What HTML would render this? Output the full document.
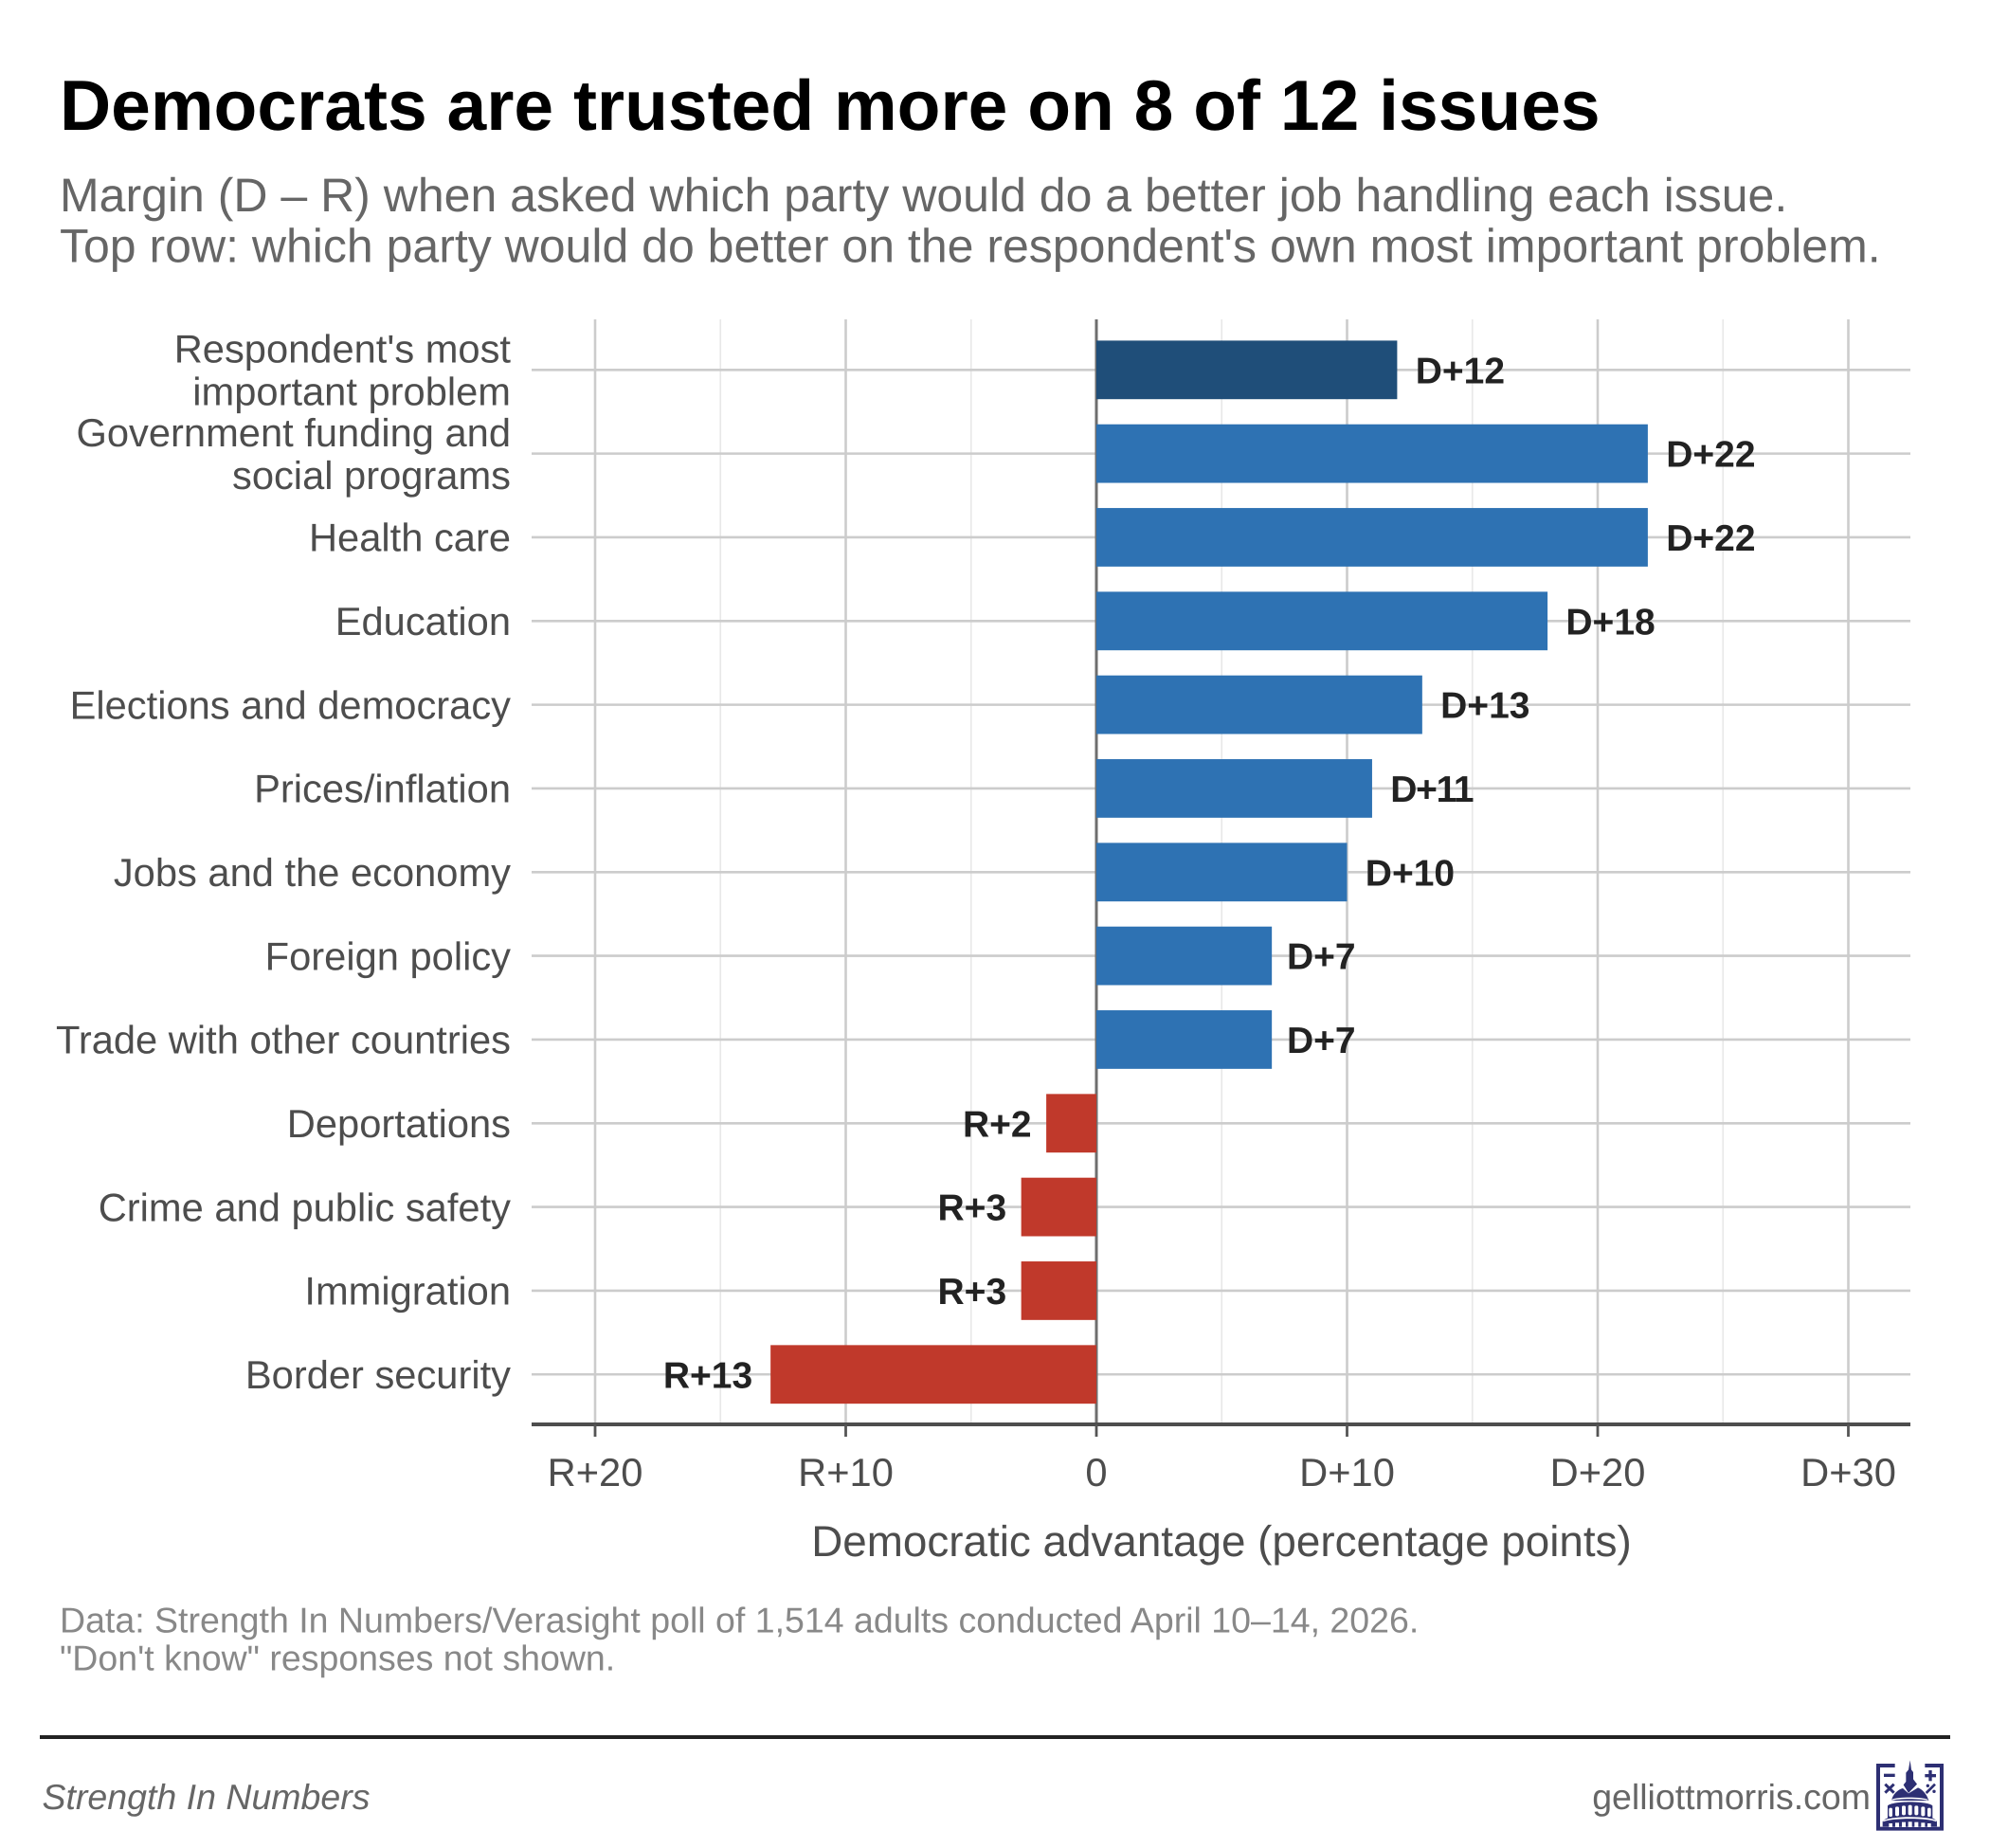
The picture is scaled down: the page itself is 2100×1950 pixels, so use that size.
<!DOCTYPE html>
<html lang="en">
<head>
<meta charset="utf-8">
<title>Democrats are trusted more on 8 of 12 issues</title>
<style>
html,body{margin:0;padding:0;background:#fff;}
body{width:2100px;height:1950px;overflow:hidden;}
svg{display:block;font-family:"Liberation Sans",Arial,sans-serif;text-rendering:geometricPrecision;}
</style>
</head>
<body>
<svg id="chart" xmlns="http://www.w3.org/2000/svg" width="2100" height="1950" viewBox="0 0 2100 1950">
  <rect x="0" y="0" width="2100" height="1950" fill="#ffffff"/>
  <text x="63" y="137" font-size="75" font-weight="700" fill="#000000">Democrats are trusted more on 8 of 12 issues</text>
  <text x="63" y="223" font-size="50" fill="#666666">Margin (D – R) when asked which party would do a better job handling each issue.</text>
  <text x="63" y="276.5" font-size="50" fill="#666666">Top row: which party would do better on the respondent's own most important problem.</text>
  <g id="grid"></g>
  <g id="zero"></g>
  <g id="bars"></g>
  <g id="values"></g>
  <g id="yaxis"></g>
  <g id="xaxis"></g>
  <text x="1289" y="1642" font-size="45.8" fill="#4d4d4d" text-anchor="middle">Democratic advantage (percentage points)</text>
  <text x="63" y="1722.5" font-size="37.5" fill="#888888">Data: Strength In Numbers/Verasight poll of 1,514 adults conducted April 10–14, 2026.</text>
  <text x="63" y="1762.5" font-size="37.5" fill="#888888">"Don't know" responses not shown.</text>
  <rect x="42" y="1831" width="2016" height="4" fill="#222222"/>
  <text x="44.5" y="1909" font-size="37.5" font-style="italic" fill="#666666">Strength In Numbers</text>
  <text x="1974" y="1909" font-size="37.5" fill="#666666" text-anchor="end">gelliottmorris.com</text>
  <g transform="translate(1960 1840) scale(0.33333)" fill="#2d2f73">
    <path d="M60 63H119V75H72V263H261V75H214V63H273V275H60Z"/>
    <rect x="84" y="95" width="35" height="10"/>
    <rect x="214" y="96" width="35" height="10"/>
    <rect x="226" y="84" width="10" height="34"/>
    <path d="M88 128L116 155M116 128L88 155" stroke="#2d2f73" stroke-width="9" fill="none"/>
    <path d="M218 156L246 128" stroke="#2d2f73" stroke-width="8" fill="none"/>
    <circle cx="223" cy="133" r="5"/>
    <circle cx="243" cy="151" r="5"/>
    <path d="M167 52L171 82L177 90V112L189 128L162 156L146 130L154 120V92L162 82Z"/>
    <path d="M108 180C112 160 128 145 144 141L162 157L192 139C208 146 220 160 226 180Z"/>
    <path d="M96 196C112 180 220 180 238 196V236H96Z"/>
    <path d="M80 262V246C90 232 120 226 166 226C212 226 244 232 252 246V262Z"/>
    <g fill="#ffffff">
      <path d="M110 176C130 168 200 168 222 176L224 180C200 173 130 173 108 180Z"/>
      <rect x="100" y="203" width="11" height="28" rx="5"/>
      <rect x="120" y="199" width="12" height="30" rx="5"/>
      <rect x="141" y="196" width="12" height="30" rx="5"/>
      <rect x="161" y="194" width="12" height="32" rx="5"/>
      <rect x="181" y="196" width="12" height="30" rx="5"/>
      <rect x="202" y="199" width="12" height="30" rx="5"/>
      <rect x="222" y="203" width="11" height="28" rx="5"/>
      <path d="M82 243C110 228 224 228 250 243L250 247C224 234 110 234 82 247Z"/>
      <rect x="100" y="252" width="11" height="12"/>
      <rect x="120" y="250" width="12" height="14"/>
      <rect x="141" y="248" width="12" height="16"/>
      <rect x="161" y="247" width="12" height="17"/>
      <rect x="181" y="248" width="12" height="16"/>
      <rect x="202" y="250" width="12" height="14"/>
      <rect x="222" y="252" width="11" height="12"/>
    </g>
  </g>
</svg>
<script>
const categories = [
  ["Respondent's most", "important problem"],
  ["Government funding and", "social programs"],
  ["Health care"],
  ["Education"],
  ["Elections and democracy"],
  ["Prices/inflation"],
  ["Jobs and the economy"],
  ["Foreign policy"],
  ["Trade with other countries"],
  ["Deportations"],
  ["Crime and public safety"],
  ["Immigration"],
  ["Border security"]
];
const margins = [12, 22, 22, 18, 13, 11, 10, 7, 7, -2, -3, -3, -13];
const majorTicks = [-20, -10, 0, 10, 20, 30];
const tickLabels = ["R+20", "R+10", "0", "D+10", "D+20", "D+30"];
const minorTicks = [-15, -5, 5, 15, 25];

const NS = "http://www.w3.org/2000/svg";
const panel = {left: 561, right: 2016, top: 337, bottom: 1503};
function xScale(v) { return 1157 + 26.45 * v; }
function yScale(i) { return 390.3 + 88.33 * i; }
function make(tag, attrs, parent) {
  const el = document.createElementNS(NS, tag);
  for (const k in attrs) el.setAttribute(k, attrs[k]);
  parent.appendChild(el);
  return el;
}
function marginLabel(v) { return (v >= 0 ? "D+" : "R+") + Math.abs(v); }
function barColor(v, i) {
  if (i === 0) return "#1f4e79";
  return v >= 0 ? "#2e72b3" : "#c0392b";
}

const grid = document.getElementById("grid");
const zero = document.getElementById("zero");
const bars = document.getElementById("bars");
const values = document.getElementById("values");
const yaxis = document.getElementById("yaxis");
const xaxis = document.getElementById("xaxis");

minorTicks.forEach(function (t) {
  const line = make("line", {x1: xScale(t), x2: xScale(t), y1: panel.top, y2: panel.bottom, stroke: "#e8e8e8", "stroke-width": 1.6}, grid);
  
  
});
majorTicks.forEach(function (t) {
  if (t === 0) return;
  const line = make("line", {x1: xScale(t), x2: xScale(t), y1: panel.top, y2: panel.bottom, stroke: "#cccccc", "stroke-width": 2.6}, grid);
  
  
});
categories.forEach(function (c, i) {
  const line = make("line", {x1: panel.left, x2: panel.right, y1: yScale(i), y2: yScale(i), stroke: "#cccccc", "stroke-width": 2.6}, grid);
  
  
});

const zeroLine = make("line", {x1: xScale(0), x2: xScale(0), y1: panel.top, y2: panel.bottom, stroke: "#6e6e6e", "stroke-width": 3}, zero);



const barHeight = 61.8;
margins.forEach(function (v, i) {
  const x0 = Math.min(xScale(0), xScale(v));
  const w = Math.abs(xScale(v) - xScale(0));
  const bar = make("rect", {x: x0, y: yScale(i) - barHeight / 2, width: w, height: barHeight, fill: barColor(v, i)}, bars);
  
  

  const gap = v >= 0 ? (Math.abs(v) >= 10 ? 19.3 : 15.8) : (Math.abs(v) >= 10 ? 19 : 15.5);
  const label = make("text", {
    x: v >= 0 ? xScale(v) + gap : xScale(v) - gap,
    y: yScale(i) + 14,
    "font-size": 39,
    "font-weight": 700,
    fill: "#222222",
    "text-anchor": v >= 0 ? "start" : "end"
  }, values);
  label.textContent = marginLabel(v);
  if (Math.abs(v) === 11) label.setAttribute('letter-spacing', '-1.3');
  
  
});

categories.forEach(function (lines, i) {
  lines.forEach(function (line, j) {
    const base = lines.length === 1 ? yScale(i) + 14.7 : yScale(i) - 7.6 + j * 44.8;
    const t = make("text", {x: 539, y: base, "font-size": 41.67, fill: "#4d4d4d", "text-anchor": "end"}, yaxis);
    t.textContent = line;
    
    
  });
});

const axisLine = make("rect", {x: panel.left, y: panel.bottom - 2, width: panel.right - panel.left, height: 4, fill: "#4d4d4d"}, xaxis);


majorTicks.forEach(function (t, i) {
  const tick = make("line", {x1: xScale(t), x2: xScale(t), y1: panel.bottom, y2: 1516, stroke: "#555555", "stroke-width": 2.8}, xaxis);
  
  
  const label = make("text", {x: xScale(t), y: 1568, "font-size": 41.67, fill: "#4d4d4d", "text-anchor": "middle"}, xaxis);
  label.textContent = tickLabels[i];
  
  
});
</script>
</body>
</html>
